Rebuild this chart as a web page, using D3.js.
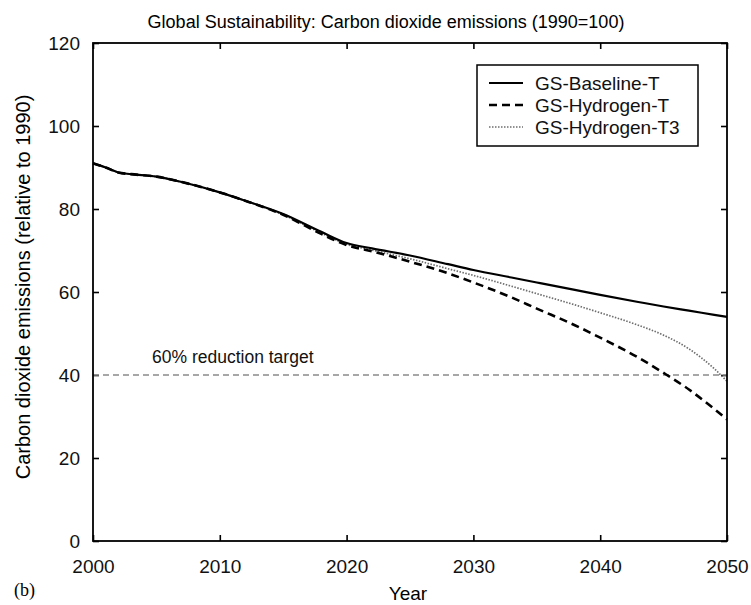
<!DOCTYPE html>
<html>
<head>
<meta charset="utf-8">
<script src="https://cdn.jsdelivr.net/npm/d3@7"></script>
<style>
  html, body { margin: 0; padding: 0; background: #fff; }
  svg { display: block; font-family: "Liberation Sans", Arial, Helvetica, sans-serif; }
</style>
</head>
<body>
<svg id="chart" width="751" height="605"></svg>
<script>
// Years sampled for each scenario
const years = [2000, 2001, 2002, 2003, 2005, 2007, 2010, 2012, 2015, 2018, 2020, 2022, 2025, 2028, 2030, 2033, 2035, 2038, 2040, 2043, 2045, 2047, 2049, 2050];

// CO2 emissions relative to 1990 (=100)
const baseline   = [91.0, 90.0, 88.8, 88.4, 87.8, 86.5, 84.0, 82.0, 78.8, 74.5, 71.8, 70.5, 68.8, 66.7, 65.3, 63.5, 62.3, 60.5, 59.3, 57.6, 56.5, 55.5, 54.5, 54.0];
const hydrogenT  = [91.0, 90.0, 88.8, 88.4, 87.8, 86.5, 84.0, 82.0, 78.6, 74.0, 71.3, 69.8, 67.3, 64.5, 62.3, 58.7, 56.0, 52.0, 49.0, 44.2, 40.5, 36.5, 31.8, 29.3];
const hydrogenT3 = [91.0, 90.0, 88.8, 88.4, 87.8, 86.5, 84.0, 82.0, 78.6, 74.2, 71.5, 70.1, 68.0, 65.6, 64.0, 61.4, 59.6, 56.9, 55.0, 52.0, 49.6, 46.3, 41.5, 38.5];

const seriesNames = ["GS-Baseline-T", "GS-Hydrogen-T", "GS-Hydrogen-T3"];
const targetValue = 40;
const targetLabel = "60% reduction target";

const xTicks = [2000, 2010, 2020, 2030, 2040, 2050];
const yTicks = [0, 20, 40, 60, 80, 100, 120];

const svg = d3.select("#chart");
const margin = { left: 93, right: 24, top: 43, bottom: 64 };
const W = 751, H = 605;
const x = d3.scaleLinear().domain([2000, 2050]).range([margin.left, W - margin.right]);
const y = d3.scaleLinear().domain([0, 120]).range([H - margin.bottom, margin.top]);

// Title
svg.append("text")
  .attr("x", 386).attr("y", 28)
  .attr("text-anchor", "middle").attr("font-size", 18)
  .text("Global Sustainability: Carbon dioxide emissions (1990=100)");

// Axes with inward ticks on all sides
const tickLen = 6;
const gx = svg.append("g").attr("transform", `translate(0,${y(0)})`)
  .call(d3.axisBottom(x).tickValues(xTicks).tickFormat(d3.format("d")).tickSize(-tickLen).tickPadding(19));
const gxt = svg.append("g").attr("transform", `translate(0,${y(120)})`)
  .call(d3.axisTop(x).tickValues(xTicks).tickFormat("").tickSize(-tickLen));
const gy = svg.append("g").attr("transform", `translate(${x(2000)},0)`)
  .call(d3.axisLeft(y).tickValues(yTicks).tickSize(-tickLen).tickPadding(13));
const gyr = svg.append("g").attr("transform", `translate(${x(2050)},0)`)
  .call(d3.axisRight(y).tickValues(yTicks).tickFormat("").tickSize(-tickLen));

[gx, gxt, gy, gyr].forEach(g => {
  g.select(".domain").remove();
  g.selectAll(".tick line").attr("stroke", "#000").attr("stroke-width", 1.6);
  g.selectAll(".tick text").attr("font-size", 19).attr("fill", "#111").attr("font-family", "Liberation Sans, Arial, sans-serif");
});

// Target line
svg.append("line")
  .attr("x1", x(2000)).attr("x2", x(2050))
  .attr("y1", y(targetValue)).attr("y2", y(targetValue))
  .attr("stroke", "#8a8a8a").attr("stroke-width", 1.3)
  .attr("stroke-dasharray", "6,4");
svg.append("text")
  .attr("x", 152).attr("y", y(targetValue) - 12)
  .attr("font-size", 17.5).attr("fill", "#111")
  .text(targetLabel);

const line = d3.line()
  .x((d, i) => x(years[i]))
  .y(d => y(d))
  .curve(d3.curveMonotoneX);

const styles = [
  { data: baseline, stroke: "#000", width: 2.2, dash: null },
  { data: hydrogenT, stroke: "#000", width: 2.6, dash: "8,5" },
  { data: hydrogenT3, stroke: "#6e6e6e", width: 1.7, dash: "1.5,1.5" }
];

// Draw T3 first, then dashed, then baseline on top
[2, 1, 0].forEach(i => {
  const s = styles[i];
  svg.append("path")
    .attr("d", line(s.data))
    .attr("fill", "none")
    .attr("stroke", s.stroke)
    .attr("stroke-width", s.width)
    .attr("stroke-dasharray", s.dash);
});

// Plot frame
svg.append("rect")
  .attr("x", x(2000)).attr("y", y(120))
  .attr("width", x(2050) - x(2000)).attr("height", y(0) - y(120))
  .attr("fill", "none").attr("stroke", "#000").attr("stroke-width", 1.8);

// Legend
const lg = svg.append("g");
lg.append("rect")
  .attr("x", 477).attr("y", 65).attr("width", 221).attr("height", 81)
  .attr("fill", "#fff").attr("stroke", "#000").attr("stroke-width", 1.5);
seriesNames.forEach((name, i) => {
  const cy = 83 + i * 22;
  const s = styles[i];
  lg.append("line")
    .attr("x1", 489).attr("x2", 523).attr("y1", cy).attr("y2", cy)
    .attr("stroke", s.stroke).attr("stroke-width", s.width)
    .attr("stroke-dasharray", s.dash);
  lg.append("text")
    .attr("x", 535).attr("y", cy).attr("dy", "0.36em")
    .attr("font-size", 19).attr("fill", "#111")
    .text(name);
});

// Axis titles
svg.append("text")
  .attr("x", 408).attr("y", 600)
  .attr("text-anchor", "middle").attr("font-size", 19)
  .text("Year");
svg.append("text")
  .attr("transform", `translate(30,287) rotate(-90)`)
  .attr("text-anchor", "middle").attr("font-size", 20)
  .text("Carbon dioxide emissions (relative to 1990)");

svg.append("text")
  .attr("x", 14).attr("y", 596)
  .attr("font-size", 18).attr("font-family", "Liberation Serif, Times New Roman, serif")
  .text("(b)");
</script>
</body>
</html>
